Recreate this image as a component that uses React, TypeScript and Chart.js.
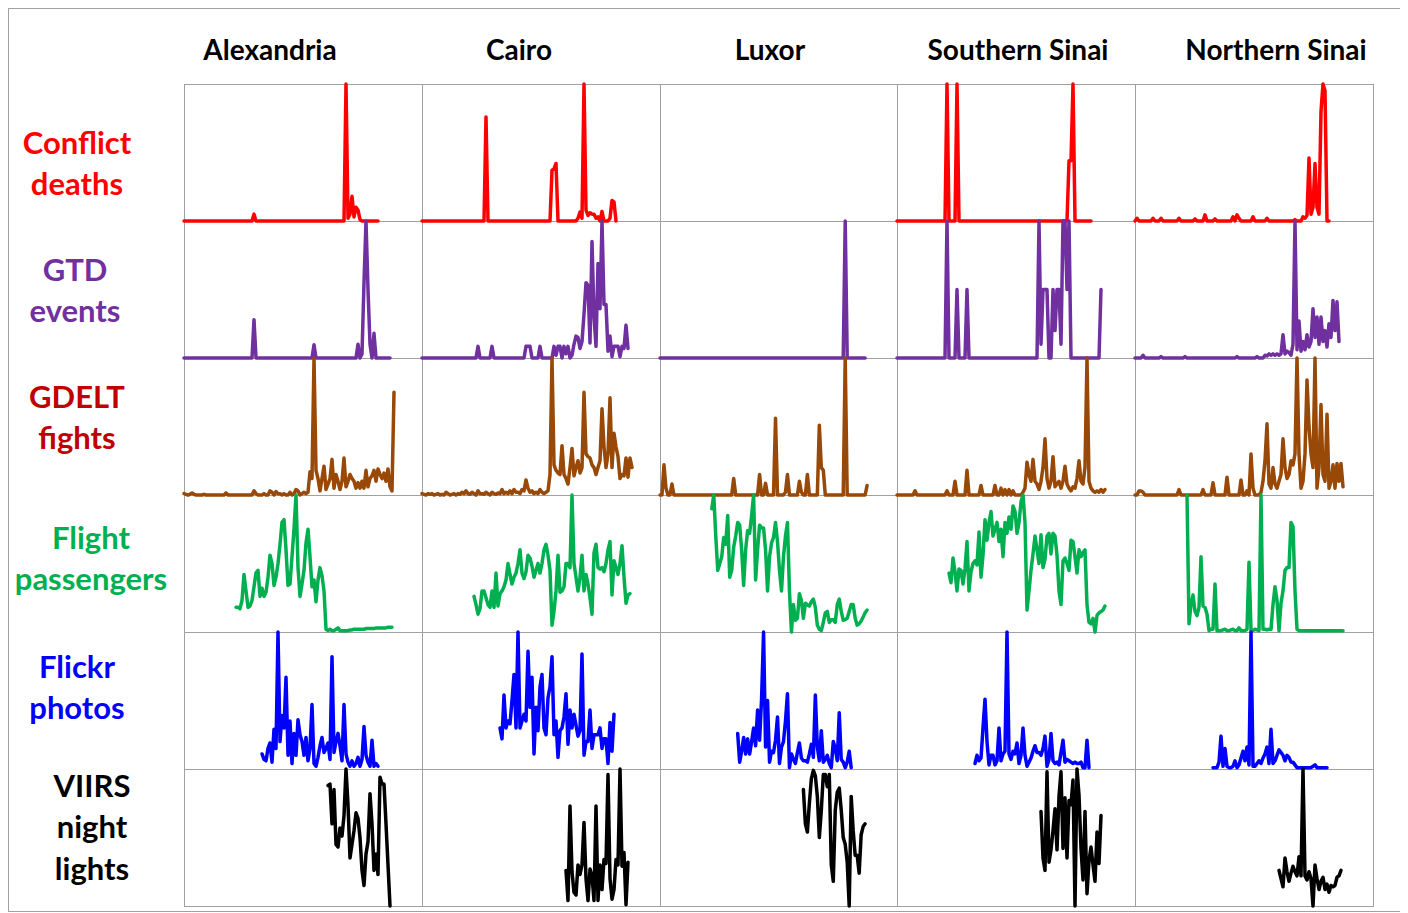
import { useEffect, useRef } from "react";
import { Chart, registerables } from "chart.js";

Chart.register(...registerables);

// ---------------- DATA ----------------
// Each panel shows the same time window (months since the window start).
const PANEL_MONTHS = 238;
const STEP_MONTHS = 2;

const REGIONS = ["Alexandria", "Cairo", "Luxor", "Southern Sinai", "Northern Sinai"];

// first month of every indicator's record
const CONFLICT_START = 0;
const GTD_START = 0;
const GDELT_START = 0;
const FLIGHTS_START = 52;
const FLICKR_START = 78;
const VIIRS_START = 144;

// values are relative to each panel's own maximum (0..1)
const CONFLICT_ALEXANDRIA = [
  0,0,0,0,0,0,0,0,0,0,
  0,0,0,0,0,0,0,0,0,0,
  0,0,0,0,0,0,0,0,0,0,
  0,0,0,0,0,0.05,0,0,0,0,
  0,0,0,0,0,0,0,0,0,0,
  0,0,0,0,0,0,0,0,0,0,
  0,0,0,0,0,0,0,0,0,0,
  0,0,0,0,0,0,0,0,0,0,
  0,1,0.02,0.05,0.18,0.03,0.1,0.08,0.01,0,
  0,0,0,0,0,0,0,0,
];
const CONFLICT_CAIRO = [
  0,0,0,0,0,0,0,0,0,0,
  0,0,0,0,0,0,0,0,0,0,
  0,0,0,0,0,0,0,0,0,0,
  0,0,0.76,0,0,0,0,0,0,0,
  0,0,0,0,0,0,0,0,0,0,
  0,0,0,0,0,0,0,0,0,0,
  0,0,0,0,0,0.37,0.38,0.42,0,0,
  0,0,0,0,0,0,0,0,0.02,0.065,
  0.02,1,0.08,0.04,0.06,0.05,0.05,0.02,0.03,0,
  0.07,0,0,0,0.02,0.15,0.14,0,
];
const CONFLICT_LUXOR: number[] = [];
const CONFLICT_S_SINAI = [
  0,0,0,0,0,0,0,0,0,0,
  0,0,0,0,0,0,0,0,0,0,
  0,0,0,0,0,1,0,0,0,0,
  1,0,0,0,0,0,0,0,0,0,
  0,0,0,0,0,0,0,0,0,0,
  0,0,0,0,0,0,0,0,0,0,
  0,0,0,0,0,0,0,0,0,0,
  0,0,0,0,0,0,0,0,0,0,
  0,0,0,0,0,0,0.44,0.44,1,0,
  0,0,0,0,0,0,0,0,
];
const CONFLICT_N_SINAI = [
  0,0.02,0,0,0,0,0,0,0,0.02,
  0,0,0,0.02,0,0,0,0,0,0,
  0,0,0.02,0,0,0,0,0,0,0,
  0.015,0,0,0,0,0.045,0,0,0,0,
  0.015,0,0,0,0,0,0,0,0,0.03,
  0,0.045,0.02,0,0,0,0,0,0,0.03,
  0,0,0,0,0,0,0.02,0,0,0,
  0,0,0,0,0,0,0,0,0,0,
  0.01,0,0,0,0.03,0.02,0.04,0.46,0.05,0.1,
  0.42,0.1,0.05,0.8,1,0.95,0,0,
];

const GTD_ALEXANDRIA = [
  0,0,0,0,0,0,0,0,0,0,
  0,0,0,0,0,0,0,0,0,0,
  0,0,0,0,0,0,0,0,0,0,
  0,0,0,0,0,0.28,0,0,0,0,
  0,0,0,0,0,0,0,0,0,0,
  0,0,0,0,0,0,0,0,0,0,
  0,0,0,0,0,0.097,0,0,0,0,
  0,0,0,0,0,0,0,0,0,0,
  0,0,0,0,0,0,0,0.1,0,0.03,
  0.55,1,0.5,0.1,0,0.18,0,0,0,0,
  0,0,0,0,
];
const GTD_CAIRO = [
  0,0,0,0,0,0,0,0,0,0,
  0,0,0,0,0,0,0,0,0,0,
  0,0,0,0,0,0,0,0,0.085,0,
  0,0,0,0,0,0.085,0,0,0,0,
  0,0,0,0,0,0,0,0,0,0,
  0,0,0.085,0.085,0.085,0,0,0,0,0.085,
  0,0,0,0,0,0,0.085,0.02,0.085,0.085,
  0,0.085,0.03,0.085,0,0.02,0.1,0.16,0.15,0.07,
  0.12,0.32,0.55,0.53,0.11,0.85,0.3,0.085,0.69,0.36,
  1,0.39,0.39,0.05,0.16,0.01,0.085,0.085,0.085,0.01,
  0.085,0.07,0.24,0.07,
];
const GTD_LUXOR = [
  0,0,0,0,0,0,0,0,0,0,
  0,0,0,0,0,0,0,0,0,0,
  0,0,0,0,0,0,0,0,0,0,
  0,0,0,0,0,0,0,0,0,0,
  0,0,0,0,0,0,0,0,0,0,
  0,0,0,0,0,0,0,0,0,0,
  0,0,0,0,0,0,0,0,0,0,
  0,0,0,0,0,0,0,0,0,0,
  0,0,0,0,0,0,0,0,0,0,
  0,0,0,1,0,0,0,0,0,0,
  0,0,0,0,
];
const GTD_S_SINAI = [
  0,0,0,0,0,0,0,0,0,0,
  0,0,0,0,0,0,0,0,0,0,
  0,0,0,0,0,1,0,0,0,0,
  0.5,0,0,0,0,0.5,0,0,0,0,
  0,0,0,0,0,0,0,0,0,0,
  0,0,0,0,0,0,0,0,0,0,
  0,0,0,0,0,0,0,0,0,0,
  0,1,0.1,0.5,0.5,0.5,0,0,0.5,0.2,
  0.5,0.5,0.1,1,1,0.5,1,0,0,0,
  0,0,0,0,0,0,0,0,0,0,
  0,0,0.5,
];
const GTD_N_SINAI = [
  0,0,0,0,0.02,0,0,0,0,0,
  0,0,0,0.01,0,0,0,0,0,0,
  0,0,0,0,0,0.01,0,0,0,0,
  0,0,0,0,0,0,0,0,0,0,
  0,0,0,0,0,0,0,0,0,0,
  0,0.01,0,0,0,0,0,0,0,0,
  0,0.01,0,0,0,0.02,0.015,0.03,0.02,0.03,
  0.02,0.03,0.02,0.03,0.17,0.03,0.05,0.04,0.02,0.1,
  1,0.06,0.27,0.05,0.12,0.06,0.17,0.08,0.12,0.36,
  0.15,0.3,0.1,0.3,0.12,0.2,0.08,0.25,0.15,0.42,
  0.2,0.41,0.12,
];

const GDELT_ALEXANDRIA = [
  0.01,0.005,0,0.005,0.015,0.005,0,0,0,0,
  0.005,0,0,0,0,0,0,0,0,0,
  0,0.015,0,0,0,0,0,0,0,0,
  0,0,0,0,0,0.03,0.01,0,0,0,
  0.01,0,0,0.03,0.02,0,0.025,0.01,0.01,0,
  0.01,0,0,0.02,0,0.01,0.04,0.03,0,0.01,
  0.02,0.01,0.02,0.17,0.12,1,0.18,0.12,0.03,0.12,
  0.21,0.04,0.08,0.12,0.26,0.05,0.15,0.1,0.04,0.1,
  0.27,0.06,0.1,0.15,0.12,0.1,0.05,0.09,0.05,0.1,
  0.05,0.18,0.06,0.12,0.14,0.18,0.1,0.19,0.15,0.12,
  0.16,0.1,0.19,0.06,0.03,0.75,
];
const GDELT_CAIRO = [
  0.01,0.005,0,0.01,0.005,0.01,0,0.005,0.01,0,
  0.005,0,0.02,0.01,0,0.005,0.01,0,0.01,0.005,
  0.02,0.01,0.03,0.01,0.005,0.02,0.01,0,0.03,0.01,
  0.01,0.005,0.02,0.01,0,0.02,0.01,0.005,0.015,0.01,
  0.04,0.01,0.02,0.01,0.03,0.01,0.04,0.02,0.02,0.01,
  0.04,0.03,0.11,0.05,0.02,0.03,0.01,0.02,0.01,0.04,
  0.02,0.01,0.02,0.03,0.15,1,0.22,0.18,0.16,0.15,
  0.36,0.15,0.12,0.08,0.2,0.34,0.14,0.2,0.25,0.16,
  0.2,0.75,0.3,0.28,0.27,0.22,0.2,0.15,0.2,0.25,
  0.63,0.35,0.2,0.3,0.71,0.2,0.45,0.35,0.28,0.12,
  0.15,0.14,0.27,0.13,0.27,0.2,
];
const GDELT_LUXOR = [
  0,0,0.22,0.05,0,0,0.08,0,0,0,
  0,0,0,0,0,0,0,0,0,0,
  0,0,0,0,0,0,0,0,0,0,
  0,0,0,0,0,0,0,0.12,0,0,
  0,0,0,0,0,0,0,0,0,0,
  0.15,0,0,0.085,0,0,0,0,0.56,0,
  0,0,0,0.02,0.15,0,0,0,0,0,
  0.1,0.02,0,0,0.15,0,0,0,0,0,
  0.51,0.2,0.18,0,0,0,0,0,0,0,
  0,0,0,1,0,0,0,0,0,0,
  0,0,0,0,0.07,
];
const GDELT_S_SINAI = [
  0,0,0,0,0,0,0,0,0,0.03,
  0,0,0,0,0,0,0,0,0,0,
  0,0,0,0,0,0.03,0,0,0,0.1,
  0,0,0,0,0,0.18,0,0,0,0,
  0,0,0.07,0,0,0,0,0,0,0.07,
  0,0,0.05,0,0.04,0,0.04,0,0.03,0,
  0,0,0,0.02,0.05,0.24,0.15,0.1,0.26,0.1,
  0.08,0.04,0.1,0.2,0.41,0.12,0.05,0.1,0.28,0.06,
  0.08,0.1,0.05,0.1,0.21,0.08,0.05,0.03,0.06,0.05,
  0.12,0.25,0.1,0.08,0.2,1,0.1,0.05,0.03,0.02,
  0.03,0.02,0.04,0.02,0.04,
];
const GDELT_N_SINAI = [
  0,0,0.03,0.03,0.02,0,0,0,0,0,
  0,0,0,0,0,0,0,0,0,0,
  0,0,0.04,0,0,0,0,0,0,0,
  0,0,0,0,0.04,0,0,0,0,0.09,
  0,0,0,0,0,0,0.13,0,0,0,
  0,0,0,0.11,0,0,0.03,0,0.3,0.05,
  0,0,0,0.02,0.1,0.25,0.52,0.08,0.05,0.2,
  0.08,0.05,0.1,0.15,0.41,0.2,0.12,0.15,0.25,0.22,
  0.3,1,0.3,0.05,0.1,0.3,0.84,0.5,0.3,0.2,
  1,0.05,0.2,0.66,0.15,0.1,0.59,0.05,0.1,0.22,
  0.05,0.23,0.1,0.23,0.06,
];

const FLIGHTS_ALEXANDRIA = [
  0.18,0.18,0.17,0.23,0.42,0.3,0.18,0.19,0.23,0.33,
  0.43,0.45,0.26,0.32,0.26,0.29,0.4,0.56,0.5,0.34,
  0.4,0.5,0.64,0.8,0.82,0.6,0.34,0.35,0.55,0.75,
  1,0.47,0.26,0.35,0.45,0.65,0.75,0.55,0.33,0.38,
  0.22,0.38,0.47,0.41,0.3,0.02,0.01,0.02,0.01,0.01,
  0.02,0.03,0.01,0.01,0.01,0.01,0.01,0.015,0.015,0.02,
  0.02,0.02,0.02,0.02,0.02,0.025,0.025,0.025,0.025,0.025,
  0.03,0.03,0.03,0.03,0.03,0.03,0.035,0.035,0.035,
];
const FLIGHTS_CAIRO = [
  0.26,0.2,0.13,0.17,0.3,0.3,0.25,0.2,0.18,0.3,
  0.18,0.43,0.19,0.28,0.3,0.33,0.38,0.5,0.42,0.35,
  0.4,0.43,0.5,0.6,0.43,0.39,0.44,0.56,0.54,0.48,
  0.4,0.45,0.5,0.43,0.5,0.6,0.64,0.56,0.45,0.05,
  0.15,0.3,0.56,0.29,0.3,0.33,0.5,0.5,0.47,1,
  0.5,0.4,0.3,0.4,0.56,0.3,0.42,0.35,0.25,0.13,
  0.58,0.64,0.47,0.46,0.47,0.44,0.5,0.6,0.66,0.27,
  0.52,0.47,0.42,0.5,0.63,0.4,0.21,0.27,0.28,
];
const FLIGHTS_LUXOR = [
  0.9,1,0.7,0.45,0.5,0.55,0.69,0.64,0.85,0.4,
  0.45,0.62,0.7,0.8,0.78,0.6,0.34,0.6,0.74,0.72,
  0.85,1,0.38,0.6,0.78,0.76,0.76,0.6,0.3,0.55,
  0.65,0.69,0.8,0.66,0.45,0.3,0.55,0.7,0.8,0.3,
  0,0.2,0.085,0.1,0.28,0.23,0.1,0.21,0.2,0.19,
  0.22,0.24,0.18,0.05,0.02,0.01,0.07,0.14,0.15,0.07,
  0.09,0.09,0.07,0.2,0.24,0.15,0.085,0.09,0.1,0.15,
  0.2,0.2,0.1,0.05,0.06,0.08,0.11,0.14,0.16,
];
const FLIGHTS_S_SINAI = [
  0.43,0.36,0.54,0.44,0.3,0.46,0.45,0.35,0.46,0.66,
  0.3,0.44,0.5,0.52,0.49,0.73,0.4,0.56,0.82,0.67,
  0.8,0.88,0.7,0.75,0.8,0.66,0.75,0.55,0.8,0.72,
  0.84,0.75,0.92,0.88,0.72,0.8,0.95,1,0.8,0.16,
  0.3,0.45,0.57,0.7,0.6,0.5,0.71,0.47,0.53,0.7,
  0.72,0.57,0.72,0.7,0.56,0.3,0.2,0.52,0.54,0.5,
  0.45,0.67,0.66,0.55,0.43,0.6,0.55,0.58,0.6,0.2,
  0.07,0.06,0.1,0,0.12,0.14,0.15,0.16,0.19,
];
const FLIGHTS_N_SINAI = [
  1,0.06,0.2,0.27,0.15,0.12,0.18,0.55,0.19,0.18,
  0.13,0.01,0.02,0.02,0.35,0.01,0.01,0.01,0.015,0.02,
  0.01,0.01,0.015,0.02,0.01,0.01,0.03,0.01,0.01,0.01,
  0.02,0.51,0.01,0.01,0.02,0.015,0.01,1,0.02,0.02,
  0.015,0.02,0.02,0.2,0.33,0.23,0.01,0.21,0.3,0.45,
  0.47,0.47,0.8,0.77,0.3,0.02,0.01,0.01,0.01,0.01,
  0.01,0.01,0.01,0.01,0.01,0.01,0.01,0.01,0.01,0.01,
  0.01,0.01,0.01,0.01,0.01,0.01,0.01,0.01,0.01,
];

const FLICKR_ALEXANDRIA = [
  0.11,0.07,0.06,0.15,0.19,0.05,0.29,0.15,1,0.2,
  0.39,0.3,0.67,0.1,0.35,0.04,0.26,0.1,0.36,0.25,
  0.2,0.1,0.23,0.06,0.15,0.47,0.04,0.02,0.085,0.17,
  0.23,0.12,0.15,0.19,0.07,0.82,0.12,0.2,0.26,0.17,
  0.06,0.47,0.11,0.05,0.02,0.06,0.02,0.04,0.085,0.02,
  0.07,0.31,0.1,0.05,0.02,0.21,0.02,0.04,0.02,
];
const FLICKR_CAIRO = [
  0.3,0.22,0.54,0.3,0.35,0.33,0.5,0.69,0.3,1,
  0.3,0.35,0.4,0.35,0.86,0.45,0.67,0.11,0.45,0.28,
  0.6,0.69,0.3,0.25,0.52,0.6,0.82,0.25,0.35,0.085,
  0.28,0.3,0.38,0.55,0.18,0.43,0.3,0.4,0.32,0.24,
  0.28,0.84,0.1,0.2,0.2,0.43,0.15,0.25,0.25,0.25,
  0.3,0.15,0.22,0.22,0.04,0.34,0.13,0.4,
];
const FLICKR_LUXOR = [
  0.26,0.05,0.13,0.23,0.11,0.22,0.11,0.2,0.3,0.17,
  0.43,0.21,0.51,1,0.16,0.5,0.05,0.13,0.12,0.21,
  0.38,0.04,0.16,0.2,0.35,0.55,0.01,0.11,0.07,0.04,
  0.12,0.19,0.08,0.06,0.06,0.05,0.11,0.18,0.085,0.54,
  0.16,0.06,0.28,0.05,0.07,0.1,0.04,0.01,0.2,0.15,
  0.06,0.41,0.07,0.05,0.01,0.05,0.13,0.01,
];
const FLICKR_S_SINAI = [
  0.04,0.1,0.06,0.08,0.3,0.51,0.2,0.03,0.1,0.1,
  0.03,0.06,0.3,0.06,0.11,0.13,1,0.11,0.07,0.13,
  0.11,0.19,0.04,0.1,0.3,0.1,0.02,0.05,0.08,0.13,
  0.17,0.12,0.12,0.1,0.15,0.24,0.02,0.07,0.26,0.06,
  0.04,0.05,0.03,0.12,0.21,0.05,0.07,0.06,0.05,0.04,
  0.05,0.04,0.04,0.05,0.01,0.01,0.21,0.01,
];
const FLICKR_N_SINAI = [
  0.01,0.01,0.01,0.05,0.24,0.02,0.15,0.02,0.01,0.01,
  0.02,0.06,0.01,0.03,0.08,0.13,0.06,0.16,0.03,1,
  0.02,0.02,0.04,0.06,0.04,0.08,0.11,0.16,0.04,0.29,
  0.04,0.06,0.1,0.14,0.12,0.1,0.06,0.1,0.085,0.05,
  0.05,0.03,0.01,0.01,0.01,0.01,0.01,0.01,0.01,0.01,
  0.02,0.03,0.01,0.01,0.01,0.01,0.01,0.01,
];

const VIIRS_ALEXANDRIA = [
  0.88,0.89,0.6,0.85,0.45,0.43,0.57,0.51,0.66,1,
  0.74,0.35,0.45,0.55,0.68,0.64,0.5,0.26,0.15,0.38,
  0.47,0.82,0.6,0.26,0.38,0.23,0.94,0.89,0.89,0.6,
  0.3,0,
];
const VIIRS_CAIRO = [
  0.26,0.04,0.73,0.25,0.1,0.08,0.3,0.23,0.3,0.61,
  0.2,0.04,0.27,0.22,0.04,0.73,0.04,0.3,0.12,0.34,
  0.31,0.96,0.2,0.05,0.12,0.34,0.3,1,0.29,0.39,
  0.01,0.32,
];
const VIIRS_LUXOR = [
  0.85,0.6,0.54,0.75,0.93,0.99,0.95,0.8,0.5,0.7,
  0.96,0.96,0.87,0.96,0.3,0.18,0.7,0.83,0.86,0.7,
  0.5,0.45,0.32,0,0.8,0.55,0.37,0.37,0.24,0.52,
  0.58,0.6,
];
const VIIRS_S_SINAI = [
  0.69,0.35,0.26,0.98,0.32,0.41,0.55,0.71,0.41,0.8,
  0.98,0.42,0.79,0.35,0.77,0.74,0.92,0,1,0.81,
  0.42,0.19,0.69,0.09,0.33,0.43,0.3,0.18,0.54,0.31,
  0.66,
];
const VIIRS_N_SINAI = [
  0.26,0.2,0.14,0.35,0.25,0.18,0.24,0.29,0.25,0.22,
  0.36,0.22,1,0.22,0.19,0.25,0.2,0,0.3,0.2,
  0.12,0.18,0.21,0.12,0.16,0.1,0.15,0.14,0.15,0.21,
  0.22,0.26,
];

type Indicator = {
  label: string[];
  labelColor: string;
  lineColor: string;
  start: number;
  series: number[][];
};

const INDICATORS: Indicator[] = [
  {
    label: ["Conflict", "deaths"],
    labelColor: "#FF0000",
    lineColor: "#FF0000",
    start: CONFLICT_START,
    series: [CONFLICT_ALEXANDRIA, CONFLICT_CAIRO, CONFLICT_LUXOR, CONFLICT_S_SINAI, CONFLICT_N_SINAI],
  },
  {
    label: ["GTD", "events"],
    labelColor: "#7030A0",
    lineColor: "#7030A0",
    start: GTD_START,
    series: [GTD_ALEXANDRIA, GTD_CAIRO, GTD_LUXOR, GTD_S_SINAI, GTD_N_SINAI],
  },
  {
    label: ["GDELT", "fights"],
    labelColor: "#C00000",
    lineColor: "#984807",
    start: GDELT_START,
    series: [GDELT_ALEXANDRIA, GDELT_CAIRO, GDELT_LUXOR, GDELT_S_SINAI, GDELT_N_SINAI],
  },
  {
    label: ["Flight", "passengers"],
    labelColor: "#00B050",
    lineColor: "#00B050",
    start: FLIGHTS_START,
    series: [FLIGHTS_ALEXANDRIA, FLIGHTS_CAIRO, FLIGHTS_LUXOR, FLIGHTS_S_SINAI, FLIGHTS_N_SINAI],
  },
  {
    label: ["Flickr", "photos"],
    labelColor: "#0000FF",
    lineColor: "#0000FF",
    start: FLICKR_START,
    series: [FLICKR_ALEXANDRIA, FLICKR_CAIRO, FLICKR_LUXOR, FLICKR_S_SINAI, FLICKR_N_SINAI],
  },
  {
    label: ["VIIRS", "night", "lights"],
    labelColor: "#000000",
    lineColor: "#000000",
    start: VIIRS_START,
    series: [VIIRS_ALEXANDRIA, VIIRS_CAIRO, VIIRS_LUXOR, VIIRS_S_SINAI, VIIRS_N_SINAI],
  },
];

// ---------------- LAYOUT ----------------
const ORIGIN = 8; // body margin
const COL_X = [184, 422, 660, 897, 1135, 1373];
const ROW_Y = [84, 221, 358, 495, 632, 769, 906];
const HEADER_CX = [270, 519, 770, 1018, 1276];
const HEADER_BASELINE = 59.5;
const ROW_LABEL_CX = [77, 75, 77, 91, 77, 92];
const ROW_LABEL_BASELINE = [154, 281, 408, 549, 678, 797];
const ROW_LINE_GAP = 41.5;
const GRID_COLOR = "#A0A0A0";
const FONT = "Lato, 'Open Sans', sans-serif";
const HEADER_SIZE = 28;
const LABEL_SIZE = 31;
const LINE_WIDTH = 3.5;
const PAD = 5;

function Panel(props: {
  values: number[];
  start: number;
  color: string;
  left: number;
  top: number;
  width: number;
  height: number;
}) {
  const ref = useRef<HTMLCanvasElement | null>(null);
  const { values, start, color, left, top, width, height } = props;
  useEffect(() => {
    if (!ref.current || values.length === 0) return;
    const chart = new Chart(ref.current, {
      type: "line",
      data: {
        datasets: [
          {
            data: values.map((v, i) => ({ x: start + i * STEP_MONTHS, y: v })),
            borderColor: color,
            borderWidth: LINE_WIDTH,
            pointRadius: 0,
            tension: 0,
            borderJoinStyle: "round",
            borderCapStyle: "round",
            clip: false as any,
          },
        ],
      },
      options: {
        animation: false,
        responsive: false,
        maintainAspectRatio: false,
        events: [],
        layout: { padding: PAD },
        plugins: { legend: { display: false }, tooltip: { enabled: false } },
        scales: {
          x: { type: "linear", display: false, min: 0, max: PANEL_MONTHS },
          y: { type: "linear", display: false, min: 0, max: 1 },
        },
      },
    });
    return () => chart.destroy();
  }, [values, start, color]);
  const w = width + 2 * PAD;
  const h = height + 2 * PAD;
  return (
    <canvas
      ref={ref}
      width={w}
      height={h}
      style={{ position: "absolute", left: left - PAD - ORIGIN, top: top - PAD - ORIGIN, width: w, height: h }}
    />
  );
}

function TextLine(props: { text: string; cx: number; baseline: number; size: number; color: string }) {
  const { text, cx, baseline, size, color } = props;
  return (
    <div
      style={{
        position: "absolute",
        left: cx - 150 - ORIGIN,
        width: 300,
        top: baseline - size * 0.887 - ORIGIN,
        height: size,
        lineHeight: `${size}px`,
        fontSize: size,
        fontFamily: FONT,
        fontWeight: 700,
        color,
        textAlign: "center",
        whiteSpace: "nowrap",
      }}
    >
      {text}
    </div>
  );
}

export default function App() {
  const gridLines: JSX.Element[] = [];
  ROW_Y.forEach((y, i) =>
    gridLines.push(
      <div
        key={`h${i}`}
        style={{
          position: "absolute",
          left: COL_X[0] - ORIGIN,
          top: y - ORIGIN,
          width: COL_X[COL_X.length - 1] - COL_X[0] + 1,
          height: 1,
          background: GRID_COLOR,
        }}
      />
    )
  );
  COL_X.forEach((x, i) =>
    gridLines.push(
      <div
        key={`v${i}`}
        style={{
          position: "absolute",
          left: x - ORIGIN,
          top: ROW_Y[0] - ORIGIN,
          width: 1,
          height: ROW_Y[ROW_Y.length - 1] - ROW_Y[0] + 1,
          background: GRID_COLOR,
        }}
      />
    )
  );

  return (
    <div style={{ position: "relative", width: 1396, height: 904, background: "#fff" }}>
      <div
        style={{
          position: "absolute",
          left: 0,
          top: 0,
          width: 1396,
          height: 904,
          boxSizing: "border-box",
          border: `1px solid ${GRID_COLOR}`,
        }}
      />
      {gridLines}
      {REGIONS.map((r, c) => (
        <TextLine key={r} text={r} cx={HEADER_CX[c]} baseline={HEADER_BASELINE} size={HEADER_SIZE} color="#000" />
      ))}
      {INDICATORS.map((ind, r) =>
        ind.label.map((t, k) => (
          <TextLine
            key={`${r}-${k}`}
            text={t}
            cx={ROW_LABEL_CX[r]}
            baseline={ROW_LABEL_BASELINE[r] + k * ROW_LINE_GAP}
            size={LABEL_SIZE}
            color={ind.labelColor}
          />
        ))
      )}
      {INDICATORS.map((ind, r) =>
        ind.series.map((vals, c) => (
          <Panel
            key={`p${r}-${c}`}
            values={vals}
            start={ind.start}
            color={ind.lineColor}
            left={COL_X[c]}
            top={ROW_Y[r]}
            width={COL_X[c + 1] - COL_X[c]}
            height={ROW_Y[r + 1] - ROW_Y[r]}
          />
        ))
      )}
    </div>
  );
}
